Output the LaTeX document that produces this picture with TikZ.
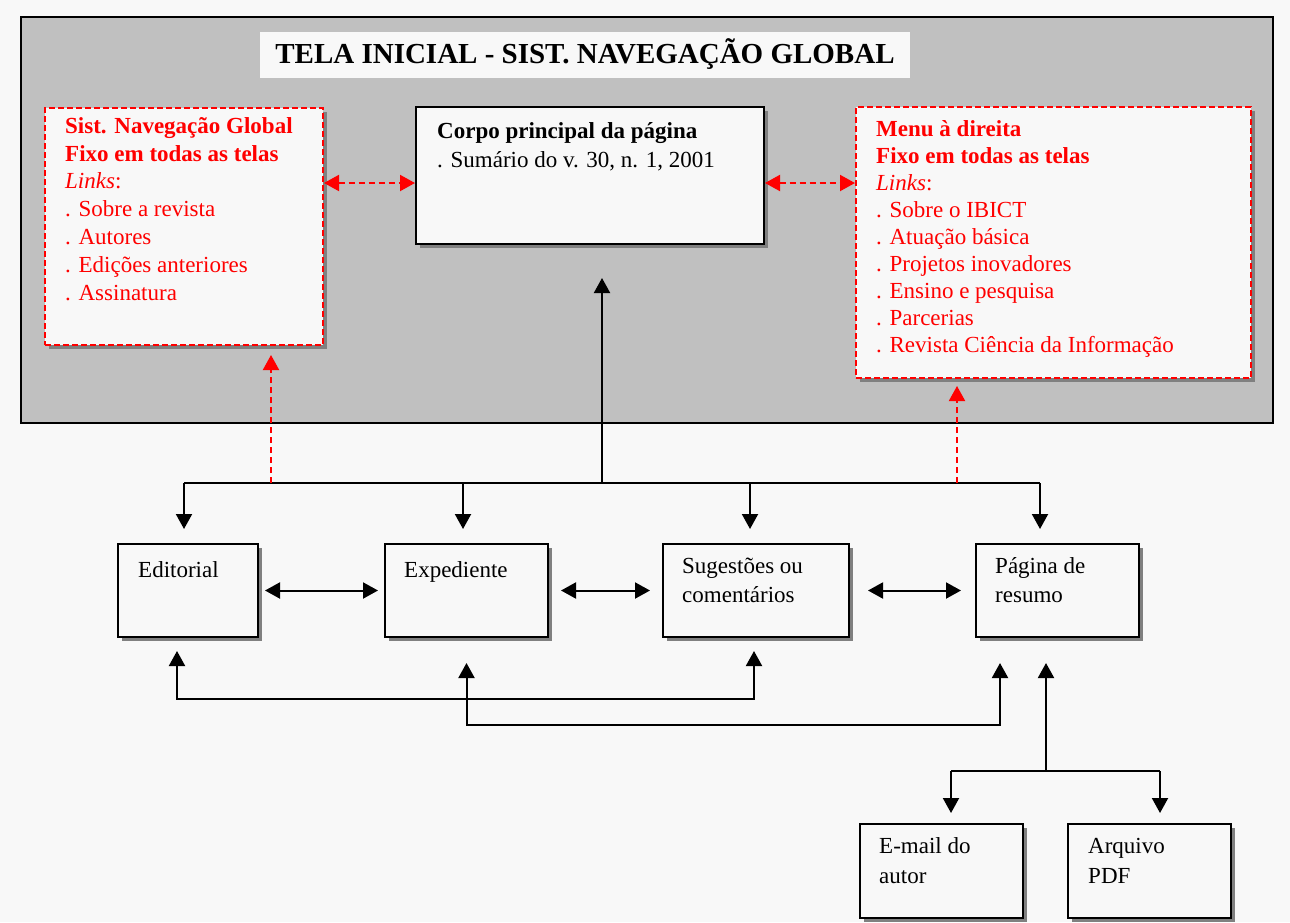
\documentclass[tikz,border=0pt]{standalone}
\usepackage{fontspec}
\setmainfont{Liberation Serif}
\usetikzlibrary{arrows.meta,shadows}
\definecolor{bgcol}{HTML}{F8F8F8}
\definecolor{panelgray}{HTML}{C0C0C0}
\definecolor{shadowgray}{HTML}{808080}
\definecolor{navred}{HTML}{FF0000}

\begin{document}
\begin{tikzpicture}[x=1pt,y=-1pt,
  Hd/.tip={Triangle[width=16pt,length=15pt]},
  bx/.style={draw=black,line width=2pt,fill=bgcol,anchor=north west,inner sep=0pt,
    drop shadow={shadow xshift=4pt,shadow yshift=-4pt,fill=shadowgray,opacity=1}},
  redbx/.style={bx,draw=navred,dash pattern=on 6pt off 3pt},
  txt/.style={font=\fontsize{23}{29}\selectfont,align=left,anchor=base west,inner sep=0pt},
  conn/.style={line width=2pt,black},
  down/.style={conn,-Hd},
  both/.style={conn,Hd-Hd},
  reddash/.style={line width=2pt,navred,dash pattern=on 6pt off 4pt},
  redboth/.style={reddash,Hd-Hd},
  redup/.style={reddash,-Hd}
]
% page and panel
\fill[bgcol] (0,0) rectangle (1290,922);
\useasboundingbox (0,0) rectangle (1290,922);
\draw[fill=panelgray,line width=2pt] (21,17) rectangle (1273,423);

% title
\node[fill=bgcol,anchor=north west,minimum width=650pt,minimum height=46pt,inner sep=0pt] (title) at (260,32) {};
\node[font=\fontsize{29}{32}\selectfont\bfseries,anchor=base,inner sep=0pt] (title-t) at (585,63)
  {TELA INICIAL - SIST. NAVEGAÇÃO GLOBAL};

% top boxes
\node[redbx,minimum width=278pt,minimum height=237pt] (L) at (44,107) {};
\node[bx,minimum width=348pt,minimum height=137pt] (C) at (415,106) {};
\node[redbx,minimum width=395pt,minimum height=271pt] (R) at (855,106) {};

% multi-line texts are placed by the baseline of their last line
\node[txt,text=navred,font=\fontsize{23}{27.8}\selectfont] (L-t) at (65,300)
  {\textbf{Sist. Navegação Global}\\
   \textbf{Fixo em todas as telas}\\
   \textit{Links}:\\
   . Sobre a revista\\
   . Autores\\
   . Edições anteriores\\
   . Assinatura};
\node[txt] (C-t) at (437,167)
  {\textbf{Corpo principal da página}\\
   . Sumário do v. 30, n. 1, 2001};
\node[txt,text=navred,font=\fontsize{23}{26.9}\selectfont] (R-t) at (876,352)
  {\textbf{Menu à direita}\\
   \textbf{Fixo em todas as telas}\\
   \textit{Links}:\\
   . Sobre o IBICT\\
   . Atuação básica\\
   . Projetos inovadores\\
   . Ensino e pesquisa\\
   . Parcerias\\
   . Revista Ciência da Informação};

% page boxes
\node[bx,minimum width=140pt,minimum height=93pt] (ed) at (117,543) {};
\node[bx,minimum width=163pt,minimum height=93pt] (ex) at (384,543) {};
\node[bx,minimum width=186pt,minimum height=93pt] (su) at (662,543) {};
\node[bx,minimum width=163pt,minimum height=93pt] (pa) at (975,543) {};
\node[bx,minimum width=163pt,minimum height=94pt] (em) at (859,823) {};
\node[bx,minimum width=163pt,minimum height=94pt] (ar) at (1067,823) {};

\node[txt] (ed-t) at (138,577) {Editorial};
\node[txt] (ex-t) at (404,577) {Expediente};
\node[txt] (su-t) at (682,602) {Sugestões ou\\comentários};
\node[txt] (pa-t) at (995,602) {Página de\\resumo};
\node[txt,font=\fontsize{23}{30}\selectfont] (em-t) at (879,883) {E-mail do\\autor};
\node[txt,font=\fontsize{23}{30}\selectfont] (ar-t) at (1088,883) {Arquivo\\PDF};

% red links between the top boxes
\coordinate (cw) at ([yshift=-7.5pt]C.west);
\coordinate (ce) at ([yshift=-7.5pt]C.east);
\draw[redboth] (cw -| L.east) -- (cw);
\draw[redboth] (ce) -- (ce -| R.west);

% distribution bus
\coordinate (edin) at ([xshift=-4pt]ed.north);
\coordinate (exin) at ([xshift=-3.5pt]ex.north);
\coordinate (suin) at ([xshift=-6pt]su.north);
\coordinate (pain) at ([xshift=-17.5pt]pa.north);
\coordinate (bus) at ([yshift=60pt]edin);
\draw[conn] (bus) -- (bus -| pain);
\draw[down,shorten >=14pt] (bus) -- (edin);
\draw[down,shorten >=14pt] (bus -| exin) -- (exin);
\draw[down,shorten >=14pt] (bus -| suin) -- (suin);
\draw[down,shorten >=14pt] (bus -| pain) -- (pain);

\coordinate (cin) at ([xshift=12pt]C.south);
\draw[down,shorten >=33pt] (bus -| cin) -- (cin);

\coordinate (lin) at ([xshift=87pt]L.south);
\coordinate (rin) at ([xshift=-96.5pt]R.south);
\draw[redup,shorten >=9pt] (bus -| lin) -- (lin);
\draw[redup,shorten >=7pt] (bus -| rin) -- (rin);

% links between the page boxes
\draw[both,shorten <=6pt,shorten >=6pt] (ed.east) -- (ex.west);
\draw[both,shorten <=12pt,shorten >=12pt] (ex.east) -- (su.west);
\draw[both,shorten <=18pt,shorten >=14pt] (su.east) -- (pa.west);

\coordinate (edb) at ([xshift=-11pt]ed.south);
\coordinate (sub) at ([xshift=-2pt]su.south);
\draw[both,shorten <=13pt,shorten >=13pt] (edb) -- ++(0,61) -| (sub);
\coordinate (pab) at ([xshift=-57.5pt]pa.south);
\draw[both,shorten <=25pt,shorten >=25pt] (ex.south) -- ++(0,87) -| (pab);

% attachments of the abstract page
\coordinate (pab2) at ([xshift=-11.5pt]pa.south);
\coordinate (fork) at ([yshift=-133pt]pab2);
\coordinate (emin) at ([xshift=9.5pt]em.north);
\coordinate (arin) at ([xshift=10.5pt]ar.north);
\draw[down,shorten >=25pt] (fork) -- (pab2);
\draw[conn] (fork -| emin) -- (fork -| arin);
\draw[down,shorten >=10pt] (fork -| emin) -- (emin);
\draw[down,shorten >=10pt] (fork -| arin) -- (arin);
\end{tikzpicture}
\end{document}
